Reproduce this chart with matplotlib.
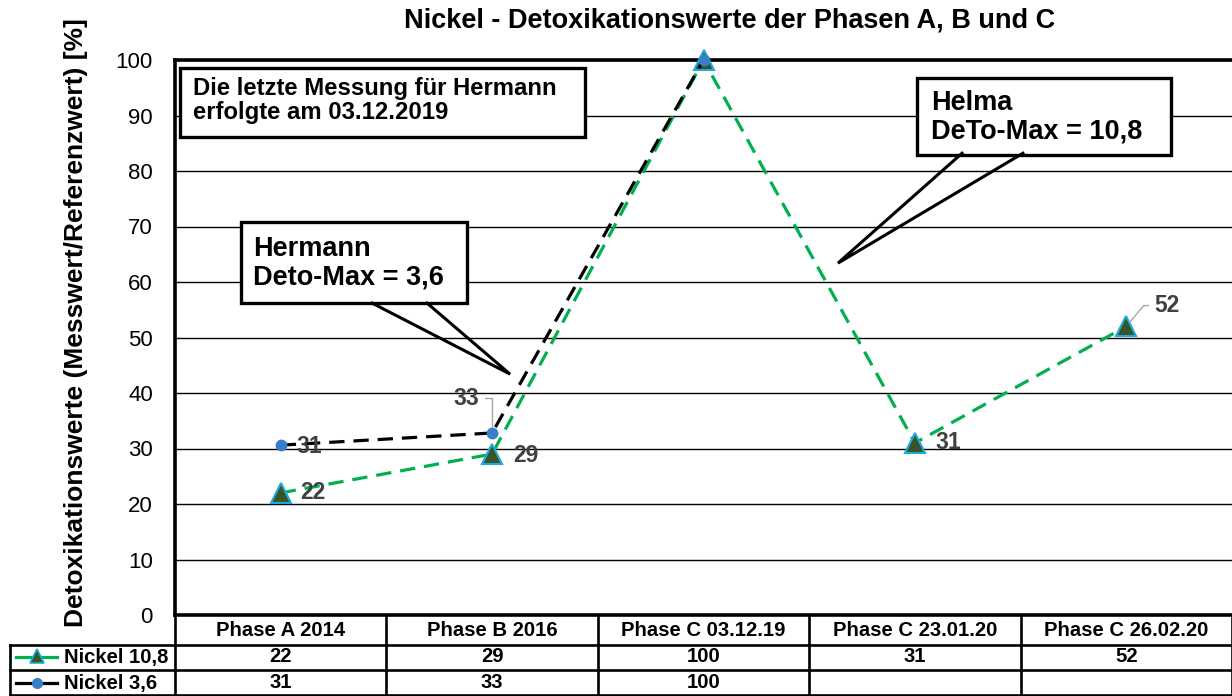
import matplotlib
matplotlib.use('Agg')
import matplotlib.pyplot as plt
from matplotlib.patches import Rectangle

# ---------------- data ----------------
categories = ['Phase A 2014', 'Phase B 2016', 'Phase C 03.12.19',
              'Phase C 23.01.20', 'Phase C 26.02.20']
nickel_108 = [22, 29, 100, 31, 52]
nickel_36 = [30.6, 32.8, 100]
series_names = ['Nickel 10,8', 'Nickel 3,6']
yticks = list(range(0, 101, 10))
title = 'Nickel - Detoxikationswerte der Phasen A, B und C'
ylabel = 'Detoxikationswerte (Messwert/Referenzwert) [%]'
note_text = 'Die letzte Messung für Hermann\nerfolgte am 03.12.2019'
hermann_text = 'Hermann\nDeto-Max = 3,6'
helma_text = 'Helma\nDeTo-Max = 10,8'

plt.rcParams['font.family'] = ['Liberation Sans', 'DejaVu Sans']

GREEN = '#00B050'
TRI_FACE = '#375623'
TRI_EDGE = '#1FA9E1'
DOT = '#3A7DC9'
LABEL = '#404040'

W, H = 1232, 696
L, R, T, B = 175, 1232, 60, 615
fig = plt.figure(figsize=(W / 100, H / 100), dpi=100)
ax = fig.add_axes([L / W, 1 - B / H, (R - L) / W, (B - T) / H])
ax.set_xlim(-0.5, len(categories) - 0.5)
ax.set_ylim(0, 100)


def axx(px):
    return (px - L) / (R - L)


def axy(py):
    return (B - py) / (B - T)


# spines / grid
for s in ['left', 'top', 'bottom']:
    ax.spines[s].set_linewidth(2.6)
    ax.spines[s].set_color('black')
ax.spines['right'].set_visible(False)
ax.set_yticks(yticks)
ax.set_yticklabels([str(v) for v in yticks], fontsize=16)
ax.tick_params(axis='y', length=0, pad=16)
ax.set_xticks([])
ax.yaxis.grid(True, color='black', lw=1.0)
ax.set_axisbelow(True)
ax.set_ylabel(ylabel, fontsize=19, fontweight='bold')
ax.yaxis.set_label_coords(axx(88), axy(323))

fig.text(730 / W, 1 - 20 / H, title, ha='center', va='center',
         fontsize=19.5, fontweight='bold')

# ---------------- series ----------------
x108 = list(range(len(nickel_108)))
x36 = list(range(len(nickel_36)))
dash = (0, (4.8, 2.8))
ax.plot(x108, nickel_108, color=GREEN, lw=2.3, linestyle=dash, zorder=3,
        clip_on=False)
ax.plot(x108, nickel_108, linestyle='none', marker='^', ms=15,
        mfc=TRI_FACE, mec=TRI_EDGE, mew=1.5, zorder=4, clip_on=False)
ax.plot(x36, nickel_36, color='black', lw=2.3, linestyle=dash, zorder=5,
        clip_on=False)
ax.plot(x36, nickel_36, linestyle='none', marker='o', ms=7.5,
        mfc=DOT, mec=DOT, zorder=6, clip_on=False)

lab_kw = dict(fontsize=16.5, fontweight='bold', color=LABEL,
              textcoords='offset points', va='center', zorder=7)
# Nickel 10,8 labels
offs108 = [(14, 0), (15, -1), None, (15, 0), (20, 15)]
for i, (v, o) in enumerate(zip(nickel_108, offs108)):
    if o is None:
        continue
    if i == 4:
        ax.annotate(f'{v:.0f}', (i, v), xytext=o, ha='left',
                    arrowprops=dict(arrowstyle='-', color='#A6A6A6', lw=1,
                                    relpos=(0, 0.5), shrinkA=2, shrinkB=4,
                                    connectionstyle='angle,angleA=0,angleB=50,rad=0'),
                    **lab_kw)
    else:
        ax.annotate(f'{v:.0f}', (i, v), xytext=o, ha='left', **lab_kw)
# Nickel 3,6 labels
ax.annotate(f'{nickel_36[0]:.0f}', (0, nickel_36[0]), xytext=(11, -1),
            ha='left', **lab_kw)
ax.annotate(f'{nickel_36[1]:.0f}', (1, nickel_36[1]), xytext=(-9, 25),
            ha='right',
            arrowprops=dict(arrowstyle='-', color='#A6A6A6', lw=1,
                            relpos=(1, 0.5), shrinkA=2, shrinkB=4,
                            connectionstyle='angle,angleA=0,angleB=90,rad=0'),
            **lab_kw)


# ---------------- callouts ----------------
def box(x0, x1, y0, y1, text, tx, ty, fs, ls):
    ax.add_patch(Rectangle((x0, y0), x1 - x0, y1 - y0, facecolor='white',
                           edgecolor='black', lw=2.4, zorder=8))
    ax.text(tx, ty, text, ha='left', va='center', fontsize=fs,
            fontweight='bold', linespacing=ls, zorder=9)


box(-0.476, 1.44, 86.1, 98.6, note_text, -0.415, 92.7, 17.2, 1.1)
box(-0.19, 0.88, 56.2, 70.8, hermann_text, -0.13, 63.4, 19.5, 1.15)
box(3.01, 4.21, 82.9, 96.8, helma_text, 3.075, 89.7, 19.5, 1.15)

# pointer lines
for xs, ys in [([0.432, 1.085, 0.692], [56.2, 43.4, 56.2]),
               ([3.223, 2.636, 3.511], [83.2, 63.4, 83.2])]:
    ax.plot(xs, ys, color='black', lw=2.2, zorder=8, solid_joinstyle='miter')

# ---------------- data table ----------------
xt = ax.get_xaxis_transform()
tl = dict(color='black', lw=1.9, clip_on=False, zorder=10)
n = len(categories)
for k in range(n + 1):
    ax.plot([k - 0.5, k - 0.5], [axy(615), axy(696)], transform=xt, **tl)
for py in [645, 670, 695]:
    ax.plot([axx(10), 1.0], [axy(py), axy(py)], transform=ax.transAxes, **tl)
ax.plot([axx(10), axx(10)], [axy(645), axy(696)], transform=ax.transAxes, **tl)

cell_kw = dict(ha='center', va='center', fontsize=14.6, fontweight='bold',
               transform=xt, clip_on=False)
for i, c in enumerate(categories):
    ax.text(i, axy(630), c, **cell_kw)
for i, v in enumerate(nickel_108):
    ax.text(i, axy(657), f'{v:.0f}', **cell_kw)
for i, v in enumerate(nickel_36):
    ax.text(i, axy(683), f'{v:.0f}', **cell_kw)

# legend keys inside the table
ta = ax.transAxes
ax.plot([axx(16), axx(57)], [axy(657)] * 2, color=GREEN, lw=2.3,
        transform=ta, clip_on=False)
ax.plot([axx(36.5)], [axy(656)], marker='^', ms=10, mfc=TRI_FACE,
        mec=TRI_EDGE, mew=1.2, transform=ta, clip_on=False)
ax.plot([axx(16), axx(57)], [axy(683)] * 2, color='black', lw=2.3,
        transform=ta, clip_on=False)
ax.plot([axx(36.5)], [axy(683)], marker='o', ms=7, mfc=DOT, mec=DOT,
        transform=ta, clip_on=False)
ax.text(axx(64), axy(657), series_names[0], ha='left', va='center',
        fontsize=14.6, fontweight='bold', transform=ta, clip_on=False)
ax.text(axx(64), axy(683), series_names[1], ha='left', va='center',
        fontsize=14.6, fontweight='bold', transform=ta, clip_on=False)

fig.savefig('out.png', dpi=100)
